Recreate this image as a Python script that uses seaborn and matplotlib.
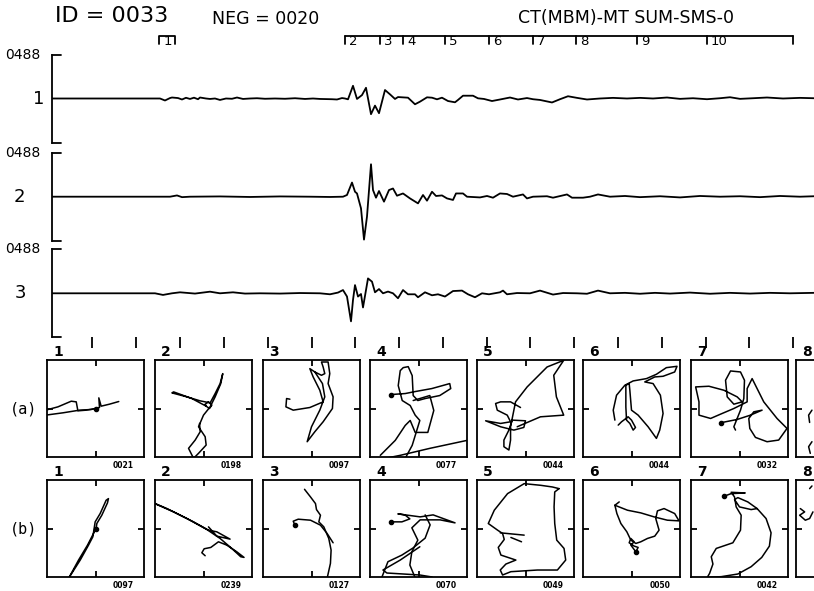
import matplotlib
matplotlib.use("Agg")
import matplotlib.pyplot as plt
import pandas as pd
import seaborn as sns

sns.set_style("white")
plt.rcParams["font.family"] = ["DejaVu Sans"]
plt.rcParams["text.color"] = "black"

# ---------------- data ----------------
TITLE_ID = "ID = 0033"
TITLE_NEG = "NEG = 0020"
TITLE_RIGHT = "CT(MBM)-MT SUM-SMS-0"
FULL_SCALE_LABEL = "0488"
FULL_SCALE = 488
CHANNELS = ["1", "2", "3"]

# trace samples (time in samples, amplitude in counts)
T1_T = [0, 108, 113, 118, 120, 126, 130, 134, 138, 142, 146, 148, 154, 158, 163, 168, 174, 180, 185, 191,
        198, 205, 213, 223, 233, 243, 253, 261, 268, 280, 285, 290, 293, 296, 301, 305, 310, 314, 319, 323,
        327, 333, 338, 343, 346, 356, 363, 368, 375, 380, 385, 390, 396, 403, 406, 411, 421, 426, 432, 440,
        448, 458, 466, 475, 481, 488, 500, 508, 516, 525, 535, 548, 561, 575, 588, 601, 615, 628, 641, 655,
        668, 678, 688, 701, 715, 731, 748, 762]
T1_V = [0, 0, -22, 5, 11, 5, -11, 8, -5, 9, -8, 11, 0, -5, 0, -16, 0, -3, 11, -5,
        0, 3, -3, 0, -3, 3, -5, 0, -5, -8, -11, 5, 0, -9, 141, -5, 38, 119, -174, -79,
        -163, 94, 46, -5, 16, 9, -64, -35, 13, 9, -9, 9, -28, -42, -16, 31, 31, 2, -5, -28,
        -11, 11, -11, 5, -8, -16, -44, -8, 25, 7, -11, 0, 7, 0, 7, 0, 11, -4, 3, -8,
        3, 14, -4, 3, 11, 0, 7, 3]

T2_T = [0, 118, 125, 130, 138, 168, 198, 228, 258, 278, 291, 295, 300, 303, 305, 309, 312, 315, 319, 321,
        324, 327, 332, 337, 341, 345, 351, 358, 366, 371, 375, 380, 384, 390, 395, 401, 404, 411, 415, 428,
        435, 441, 448, 455, 461, 471, 475, 481, 495, 501, 515, 520, 531, 538, 546, 558, 573, 588, 608, 628,
        648, 668, 688, 708, 728, 748, 762]
T2_V = [0, 0, 14, -5, 0, 3, -3, 3, 0, -3, 0, 19, 157, 55, 36, -129, -476, -220, 360, 74,
        -11, 63, -55, 74, 91, 11, 36, -19, -74, 19, -44, 55, 8, 14, -19, -36, 36, 36, 0, -8,
        8, -11, 36, 30, 0, 25, -19, 0, 5, -11, 25, -11, -11, 0, 25, 0, 8, -5, 5, -8,
        8, 0, 5, -5, 8, 0, 5]

T3_T = [0, 103, 111, 120, 128, 143, 158, 168, 181, 193, 208, 228, 248, 268, 278, 286, 291, 295, 299, 301,
        303, 306, 309, 311, 314, 316, 320, 323, 327, 331, 336, 341, 346, 351, 356, 363, 366, 373, 380, 386,
        393, 401, 410, 416, 423, 430, 437, 448, 451, 455, 465, 478, 488, 501, 511, 525, 535, 546, 558, 573,
        588, 603, 618, 638, 658, 678, 698, 718, 738, 762]
T3_V = [0, 0, -18, 0, 11, -3, 18, 0, 11, -3, 0, -3, 3, 0, -11, 8, 36, -36, -311, -74,
        91, -36, -8, -157, 36, 165, 129, 11, 47, 0, 19, 0, -55, 36, -11, -11, -44, 11, -22, -11,
        -36, 25, 30, -11, -44, 0, -11, 11, 30, -11, 3, 0, 30, -14, 3, 0, -5, 30, 0, 5,
        -5, 5, -3, 8, -5, 5, -3, 5, 0, 5]

# phase windows (sample positions)
WIN1_START, WIN1_END = 107, 123
WIN_STARTS = [293, 328, 351, 393, 437, 481, 524, 585, 655]
WIN_END = 741
WIN_LABELS = ["1", "2", "3", "4", "5", "6", "7", "8", "9", "10"]
TIME_TICKS = [40, 84, 128, 172, 216, 260, 303, 347, 391, 435, 478, 522, 566, 610, 654, 697, 741]

PANEL_NUMS = ["1", "2", "3", "4", "5", "6", "7", "8"]
A_LABELS = ["0021", "0198", "0097", "0077", "0044", "0044", "0032"]
B_LABELS = ["0097", "0239", "0127", "0070", "0049", "0050", "0042"]

# particle motion paths (each panel: list of segments of (x, y))
A1 = [[(0, 0), (-28, -5), (-53, -7), (-58, 20), (-73, 22), (-113, 5), (-150, -5)],
      [(-150, -20), (-98, -13), (-48, -5), (-13, -3), (12, 3), (10, 32), (17, 7), (42, 13), (70, 21)]]
A2 = [[(8, 7), (5, 13), (15, 20), (25, 10), (18, 0), (8, 7), (-35, 30), (-90, 50), (-95, 47), (-50, 35),
       (-10, 23), (20, 17), (35, 45), (50, 75), (58, 105), (52, 75), (35, 35), (20, 5), (0, -20), (-15, -55),
       (5, -85), (8, -110), (-15, -135), (-30, -150), (-45, -120), (-25, -95), (-10, -70), (-12, -45)]]
A3 = [[(-65, 28), (-75, 30), (-77, 5), (-55, -5), (-5, 3), (35, 20), (25, 55), (5, 95), (-5, 120), (10, 110),
       (30, 100), (40, 105), (35, 125), (30, 140), (50, 140), (55, 105), (50, 75), (65, 35), (63, 0), (35, -40),
       (10, -70), (-13, -100), (0, -55), (25, -5), (40, 35), (33, 75), (10, 110)]]
A4 = [[(-83, 42), (-40, 45), (-10, 51), (40, 60), (94, 75), (97, 60), (64, 39), (20, 30), (-2, 24), (-16, 39),
       (-19, 99), (-31, 126), (-46, 123), (-55, 114), (-61, 69), (-49, 24), (-25, 9), (-10, -20), (4, -36),
       (-19, -111), (-40, -150)],
      [(-16, 24), (34, 39), (46, -6), (28, -72), (-10, -72), (-25, -36), (-40, -51), (-70, -96), (-115, -141)],
      [(146, -96), (34, -120), (-55, -141), (-100, -150)]]
A5 = [[(-15, 3), (-45, 20), (-75, 20), (-90, 15), (-85, -5), (-55, -20), (-45, -40), (-75, -45), (-120, -37),
       (-75, -55), (-35, -65), (-5, -57), (0, -37), (-40, -35), (-50, -65), (-65, -95), (-65, -115), (-50, -125),
       (-45, -95), (-45, -55), (-35, -5), (-30, 20), (5, 65), (65, 125), (115, 145), (85, 100), (93, 35),
       (115, -20), (45, -25), (-25, -55)]]
A6 = [[(-50, -35), (-55, -5), (-45, 40), (-20, 70), (5, 83), (45, 90), (75, 103), (105, 123), (137, 127),
       (130, 110), (95, 97), (70, 95), (40, 80), (65, 75), (87, 40), (95, -15), (85, -65), (75, -90), (50, -55),
       (20, -20), (0, -5), (-5, 55), (-7, 75), (-17, 70), (-17, 5), (-15, -35), (-5, -45), (5, -65), (12, -57),
       (0, -35), (-10, -25), (-30, -40), (-40, -50)]]
A7 = [[(-57, -43), (-7, -33), (33, -20), (68, -5), (43, -10), (28, -30), (31, -60), (48, -87), (83, -100),
       (118, -95), (143, -60), (113, -30), (73, 20), (38, 90), (23, 60), (23, 20), (-17, 0), (-57, -17),
       (-87, -30), (-122, -20), (-122, 20), (-132, 65), (-92, 67), (-47, 55), (-7, 35), (8, 20), (-17, 13),
       (-37, 35), (-42, 85), (-27, 113), (3, 110), (15, 85), (13, 30), (3, -5), (-17, -55), (-12, -65)]]
A8 = [[(-98, -5), (-108, -20), (-105, -42)], [(-98, -100), (-108, -115), (-103, -135)]]

B1 = [[(1, 0), (-6, -15), (-24, -50), (-51, -95), (-81, -150), (-46, -95), (-21, -50), (-8, -25), (-1, 20),
       (14, 45), (32, 85), (39, 90), (36, 77), (19, 40), (4, 15), (2, 0)]]
B2 = [[(5, -82), (-5, -73), (2, -61), (22, -57), (45, -40), (70, -50), (100, -70), (122, -87), (112, -85),
       (85, -60), (50, -30), (10, -3), (-50, 30), (-110, 60), (-150, 77), (-140, 72), (-90, 50), (-30, 20),
       (15, -5), (40, -10), (80, -32), (40, -23), (15, 5)]]
B3 = [[(-50, 10), (-55, 22), (-40, 28), (-3, 25), (27, 10), (47, -15), (65, -43)],
      [(-21, 118), (-3, 95), (12, 75), (15, 57), (27, 40), (22, 20), (37, 5), (52, -30), (59, -65),
       (57, -105), (47, -150)]]
B4 = [[(-83, 20), (-50, 20), (-26, 29), (-41, 41), (-62, 44), (5, 35), (44, 41), (110, 17), (65, 26), (5, 26),
       (-20, 2), (-2, -35), (-20, -70), (-26, -110), (-11, -146)],
      [(-110, -146), (-92, -100), (-50, -80), (-17, -59), (20, -29), (35, 11), (20, 41)],
      [(4, -55), (-55, -95), (-107, -125), (-95, -134), (4, -140), (41, -146)]]
B5 = [[(101, 120), (81, 125), (46, 130), (-4, 135), (-54, 105), (-94, 55), (-112, 15), (-84, -5), (-69, -15),
       (-64, -33), (-82, -57), (-74, -80), (-29, -95), (-59, -107), (-76, -125), (-69, -140), (-44, -130),
       (36, -125), (96, -125), (121, -95), (116, -60), (94, -35), (88, 15), (86, 65), (88, 110), (101, 120)],
      [(-76, -13), (-4, -20)], [(-44, -27), (-12, -40)]]
B6 = [[(-37, 80), (-50, 70), (-12, 55), (28, 47), (68, 35), (108, 25), (143, 23), (130, 45), (98, 60), (78, 53),
       (73, 30), (83, -5), (70, -23), (48, -30), (28, -40), (13, -45), (-2, -35), (-14, -10), (-32, 15),
       (-44, 45), (-50, 70)],
      [(13, -70), (-2, -50), (8, -40), (-2, -30), (-7, -43), (8, -53), (20, -57), (13, -70)]]
B7 = [[(-47, 97), (-25, 105), (17, 107), (-25, 109), (-15, 95), (-10, 65), (5, 40), (3, -5), (-20, -43),
       (-70, -60), (-85, -85), (-80, -107), (-90, -135), (-97, -147), (-55, -145), (-5, -137), (35, -115),
       (67, -87), (90, -53), (95, -13), (80, 30), (53, 60), (25, 80), (-5, 93), (-15, 87), (0, 65), (35, 57),
       (53, 60)]]
B8 = [[(-133, 60), (-120, 50), (-135, 40), (-118, 25), (-105, 30), (-95, 50)], [(-105, 120), (-98, 128)]]

A_DOTS = [(0, 0), None, None, (-83, 42), None, None, (-57, -43), None]
B_DOTS = [(1, 0), None, (-50, 10), (-83, 20), None, (13, -70), (-47, 97), None]

# ---------------- layout ----------------
W, H = 814, 591
fig = plt.figure(figsize=(W / 100, H / 100), dpi=100)
fig.patch.set_facecolor("white")


def px_box(l, t, w, h):
    return [l / W, 1 - (t + h) / H, w / W, h / H]


def ftext(x, y, s, **kw):
    fig.text(x / W, 1 - y / H, s, color="black", **kw)


LW = 1.3
ftext(55, 16, TITLE_ID, fontsize=16, va="center", ha="left")
ftext(212, 19, TITLE_NEG, fontsize=12.5, va="center", ha="left")
ftext(518, 18, TITLE_RIGHT, fontsize=12.5, va="center", ha="left")

traces = [(T1_T, T1_V), (T2_T, T2_V), (T3_T, T3_V)]
baselines = [98.5, 196.7, 293.3]
half = 44
label_x = [39, 19, 20]
label_y_off = [0.5, 0, 0]
axes_tr = []
for i, ((tt, vv), b) in enumerate(zip(traces, baselines)):
    ax = fig.add_axes(px_box(52, b - half, 762, 2 * half))
    ax.patch.set_alpha(0)
    df = pd.DataFrame({"t": tt, "v": vv})
    sns.lineplot(data=df, x="t", y="v", ax=ax, color="black", lw=LW, sort=False, estimator=None)
    ax.set_xlim(0, 762)
    ax.set_ylim(-FULL_SCALE, FULL_SCALE)
    for s in ["top", "right", "bottom"]:
        ax.spines[s].set_visible(False)
    ax.spines["left"].set_color("black")
    ax.spines["left"].set_linewidth(LW)
    ax.set_xticks([])
    ax.set_yticks([])
    ax.set_xlabel("")
    ax.set_ylabel("")
    stub = 9 / 762
    ax.plot([0, stub], [1, 1], transform=ax.transAxes, color="black", lw=LW, clip_on=False)
    ax.plot([0, stub], [0, 0], transform=ax.transAxes, color="black", lw=LW, clip_on=False)
    ftext(5, b - half + label_y_off[i], FULL_SCALE_LABEL, fontsize=10, va="center", ha="left")
    ftext(label_x[i], b, CHANNELS[i], fontsize=13, va="center", ha="center")
    axes_tr.append(ax)

# phase windows above trace 1
ax1 = axes_tr[0]
tr = ax1.get_xaxis_transform()
y_top = (142.5 - 36) / 88
y_bot = (142.5 - 44) / 88
y_lab = (142.5 - 41.5) / 88
ax1.plot([WIN1_START, WIN1_START, WIN1_END, WIN1_END], [y_bot, y_top, y_top, y_bot],
         transform=tr, color="black", lw=LW, clip_on=False)
ax1.text(WIN1_START + 5, y_lab, WIN_LABELS[0], transform=tr, fontsize=9.5, va="center", ha="left",
         color="black")
ax1.plot([WIN_STARTS[0], WIN_END], [y_top, y_top], transform=tr, color="black", lw=LW, clip_on=False)
for s, lab in zip(WIN_STARTS + [WIN_END], WIN_LABELS[1:] + [""]):
    ax1.plot([s, s], [y_top, y_bot], transform=tr, color="black", lw=LW, clip_on=False)
    if lab:
        ax1.text(s + 4, y_lab, lab, transform=tr, fontsize=9.5, va="center", ha="left", color="black")

# time ticks below trace 3
ax3 = axes_tr[2]
ax3.set_xticks(TIME_TICKS)
ax3.tick_params(axis="x", bottom=True, direction="out", length=8, width=LW, color="black",
                labelbottom=False, pad=0)

# particle motion panels
LEFTS = [47, 155, 263, 370, 477, 583, 691, 796]
SIZE = 97
ROWS = [(360, [A1, A2, A3, A4, A5, A6, A7, A8], A_DOTS, A_LABELS, "(a)"),
        (480, [B1, B2, B3, B4, B5, B6, B7, B8], B_DOTS, B_LABELS, "(b)")]
for top, paths, dots, labels, rowlab in ROWS:
    ftext(10, top + SIZE / 2, rowlab, fontsize=11, va="center", ha="left", family="DejaVu Sans Mono")
    for j, (l, segs) in enumerate(zip(LEFTS, paths)):
        ax = fig.add_axes(px_box(l, top, SIZE, SIZE))
        rows = []
        for k, seg in enumerate(segs):
            for (x, y) in seg:
                rows.append({"x": x, "y": y, "seg": k})
        df = pd.DataFrame(rows)
        sns.lineplot(data=df, x="x", y="y", units="seg", estimator=None, sort=False,
                     color="black", lw=1.1, ax=ax)
        if dots[j] is not None:
            ax.plot([dots[j][0]], [dots[j][1]], "o", color="black", ms=3)
        ax.set_xlim(-146, 146)
        ax.set_ylim(-146, 146)
        for s in ax.spines.values():
            s.set_visible(True)
            s.set_color("black")
            s.set_linewidth(LW)
        ax.set_xticks([0])
        ax.set_yticks([0])
        ax.tick_params(direction="in", length=4, width=LW, color="black",
                       top=True, bottom=True, left=True, right=True,
                       labelbottom=False, labelleft=False)
        ax.set_xlabel("")
        ax.set_ylabel("")
        ftext(l + 6, top - 1, PANEL_NUMS[j], fontsize=10, fontweight="bold", va="bottom", ha="left")
        if j < len(labels):
            ftext(l + SIZE - 10, top + SIZE + 9, labels[j], fontsize=5.5, fontweight="bold",
                  va="center", ha="right")

fig.savefig("out.png", dpi=100, facecolor="white")
